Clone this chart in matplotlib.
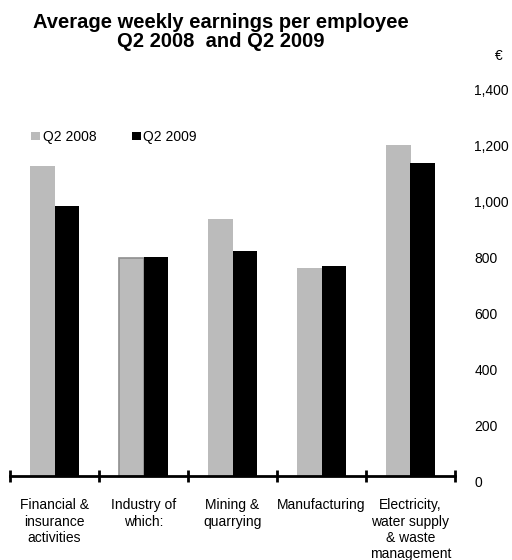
import numpy as np
import matplotlib
matplotlib.use("Agg")
import matplotlib.pyplot as plt

plt.rcParams["font.family"] = ["Liberation Sans", "DejaVu Sans"]

# -----------------------------
# Data
# -----------------------------
categories = ["Financial &\ninsurance\nactivities", "Industry of\nwhich:",
              "Mining &\nquarrying", "Manufacturing",
              "Electricity,\nwater supply\n& waste\nmanagement"]
q2_2008 = [1107, 779, 918, 743, 1182]
q2_2009 = [964, 782, 804, 750, 1118]
series_names = ["Q2 2008", "Q2 2009"]
yticks = [0, 200, 400, 600, 800, 1000, 1200, 1400]

x = np.arange(len(categories))
w = 0.28

fig = plt.figure(figsize=(5.12, 5.6), dpi=100)
ax = fig.add_axes([10 / 512, 1 - 476 / 560, 445 / 512, 392 / 560])

bars08 = ax.bar(x - w / 2, q2_2008, w, color="#bbbbbb", label=series_names[0])
bars09 = ax.bar(x + w / 2, q2_2009, w, color="#000000", label=series_names[1])
# the "Industry" bar has a darker outline in the original
bars08[1].set_edgecolor("#8f8f8f")
bars08[1].set_linewidth(1.2)

ax.set_xlim(-0.5, len(categories) - 0.5)
ax.set_ylim(0, 1400)

for s in ["top", "left", "right"]:
    ax.spines[s].set_visible(False)
ax.spines["bottom"].set_linewidth(2)

# y labels on the right, no tick marks
ax.yaxis.tick_right()
ax.set_yticks(yticks)
ax.set_yticklabels([f"{v:,}" for v in yticks], fontsize=10, ha="left")
ax.tick_params(axis="y", length=0, pad=14)
for lab in ax.get_yticklabels():
    lab.set_va("top")

# x ticks at category boundaries, labels centred on categories
ax.set_xticks(np.arange(-0.5, len(categories), 1.0))
ax.set_xticklabels([])
ax.tick_params(axis="x", direction="inout", length=9, width=2, color="black")
ax.set_xticks(x, minor=True)
ax.set_xticklabels(categories, minor=True, fontsize=10, linespacing=1.22)
ax.tick_params(axis="x", which="minor", length=0, pad=16)

ax.text(1.0 + 40 / 445, 1400 + 100, "\u20ac", transform=ax.get_yaxis_transform(),
        fontsize=10, ha="left", va="center")

ax.legend(loc="upper left", bbox_to_anchor=(0.02, 0.915), ncol=2, frameon=False,
          fontsize=10, handlelength=0.6, handleheight=0.6, handletextpad=0.2,
          columnspacing=2.6)

fig.text(221 / 512, 1 - 32 / 560, "Average weekly earnings per employee\nQ2 2008  and Q2 2009",
         ha="center", va="center", fontsize=14.5, fontweight="bold", linespacing=1.0)

plt.savefig("out.png", dpi=100)
